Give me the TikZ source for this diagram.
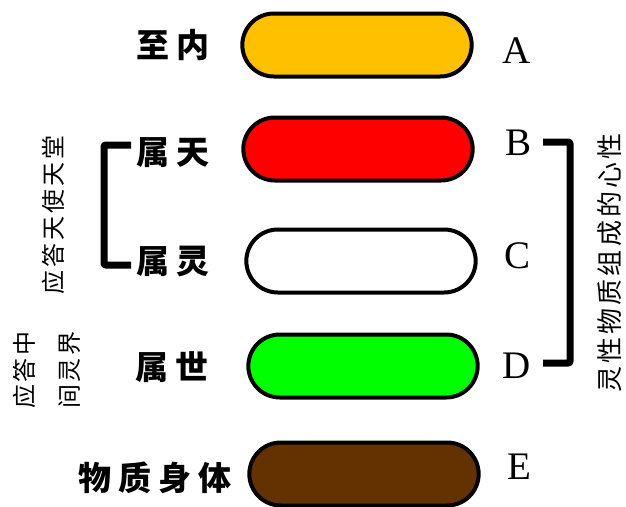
\documentclass[tikz,border=0pt]{standalone}
\usepackage{fontspec}
\newfontfamily\cjk[LetterSpace=22]{Noto Sans CJK SC}
\newfontfamily\cjkthin[LetterSpace=12]{Noto Sans CJK SC}
\newfontfamily\romanletter{Liberation Serif}
\usetikzlibrary{shapes.misc}
\definecolor{amber}{RGB}{255,192,0}
\definecolor{leaf}{RGB}{0,255,0}
\definecolor{bark}{RGB}{100,50,0}

\begin{document}
\begin{tikzpicture}[x=1pt,y=-1pt]

\tikzset{pill/.style={draw,line width=4pt,rounded rectangle,minimum width=236pt,minimum height=63pt}}
\tikzset{realm/.style={font=\cjk\bfseries\fontsize{33}{33}\selectfont}}
\tikzset{letter/.style={font=\romanletter\fontsize{39}{39}\selectfont}}
\tikzset{side/.style={font=\cjkthin\fontsize{24}{45}\selectfont,rotate=90,align=center}}
\tikzset{bracket/.style={draw,line width=7pt,rounded corners=2pt}}

\useasboundingbox (0,0) rectangle (626,506);

\node[pill,fill=amber] (A) at (357,45) {};
\node[pill,fill=red] (B) at (358,149) {};
\node[pill,fill=white] (C) at (361,261) {};
\node[pill,fill=leaf] (D) at (363,366) {};
\node[pill,fill=bark] (E) at (364,474) {};

\node[realm] (zhinei) at (173,45) {至内};
\node[realm] (shutian) at (173,153) {属天};
\node[realm] (shuling) at (173,262) {属灵};
\node[realm] (shushi) at (172,367) {属世};
\node[realm] (wuzhi) at (155,478) {物质身体};

\node[letter] (a) at (517,51) {A};
\node[letter] (b) at (518,143) {B};
\node[letter] (c) at (517,256) {C};
\node[letter] (d) at (517,366) {D};
\node[letter] (e) at (519,467) {E};

\node[side] (tiantang) at (53,215) {应答天使天堂};
\node[side] (zhongjian) at (47,370) {应答中\\间灵界};
\node[side,font=\cjkthin\fontsize{26}{26}\selectfont] (xinxing) at (610,263) {灵性物质组成的心性};

\coordinate (lt) at (131,145);
\coordinate (lb) at (131,265);
\draw[bracket] (lt) -- ++(-27,0) |- (lb);

\coordinate (rt) at (543,142);
\coordinate (rb) at (543,363);
\draw[bracket] (rt) -- ++(27,0) |- (rb);

\end{tikzpicture}
\end{document}
